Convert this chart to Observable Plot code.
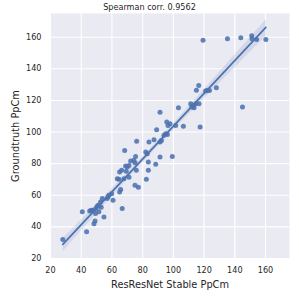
<!DOCTYPE html>
<html><head><meta charset="utf-8">
<script src="https://cdn.jsdelivr.net/npm/d3@7"></script>
<script src="https://cdn.jsdelivr.net/npm/@observablehq/plot@0.6"></script>
<style>
body{margin:0;background:#fff;}
#wrap{position:relative;width:299px;height:299px;font-family:"DejaVu Sans",sans-serif;}
#title{position:absolute;left:0;top:1px;width:299px;text-align:center;font-size:8.1px;color:#262626;line-height:12px;}
#wrap g[aria-label="x-axis label"] text, #wrap g[aria-label="y-axis label"] text{font-size:9.8px;}
</style></head><body>
<div id="wrap"><div id="title">Spearman corr. 0.9562</div></div>
<script>
const predicted = [28,40.7,43.5,45.5,46.5,47.5,48.3,49,49.3,49.5,50.4,51.1,52.6,53.7,51.5,53,54.8,56.9,58,59.8,60.7,57.5,65,65.7,66.7,63.5,64.6,67.8,71.1,65,66.3,69.3,68.9,70,71.1,72.2,74.3,75,75.9,75,77.2,68.3,75.4,76.1,82,83,83.7,83.7,82.4,84.1,87.4,88.5,89.1,91.3,92.2,91.3,93.9,95,96.1,91.3,95.7,96.5,97.8,99.3,101.5,103.3,106.5,111.3,112,113,113.5,114.6,116.7,117.4,115,116.5,121,122.2,123.5,128,119.3,135.2,143.9,145,151,151.2,154.2,160.2];
const groundtruth = [32,49.5,37,50,50.5,50.5,42,43.7,48.4,51.6,53,53.7,55.8,57.9,49.5,52.5,46.3,57.9,60,61,56.8,59,62.1,63.6,51.6,70.5,70.1,70.5,71.4,74.7,75.8,75.2,78.5,77.9,78.9,81.7,82.1,80.6,75.8,66.3,65,88.4,84.6,94.1,87.4,86.3,81,75.8,70.1,93.7,95.2,79.6,101.5,93.7,94.7,84.2,97.9,98.9,98.5,112.6,106.3,104.2,105.3,84.6,104.2,115.4,103.6,117.9,115.8,116.8,115.4,117.9,117.9,103.2,126.5,129.5,126,126.5,126.3,128,158,159,159.7,115.8,161,159,158.6,158.6];
const xTicks = [20,40,60,80,100,120,140,160];
const yTicks = [20,40,60,80,100,120,140,160];
const xLabel = "ResResNet Stable PpCm";
const yLabel = "Groundtruth PpCm";
const data = predicted.map((x,i)=>({x, y: groundtruth[i]}));
const chart = Plot.plot({
  width:299, height:299, marginLeft:50, marginRight:10, marginTop:13, marginBottom:41,
  style:{fontFamily:"DejaVu Sans", fontSize:"8.1px", color:"#262626", background:"white"},
  x:{domain:[20,175.6], ticks:xTicks, tickSize:0, tickPadding:9, label:xLabel, labelAnchor:"center", labelOffset:29, labelArrow:"none"},
  y:{domain:[20,175], ticks:yTicks, tickSize:0, tickPadding:9, label:yLabel, labelAnchor:"center", labelOffset:38, labelArrow:"none"},
  marks:[
    Plot.frame({fill:"#eaeaf2", stroke:null}),
    Plot.gridX(xTicks,{stroke:"white", strokeOpacity:1, strokeWidth:1.1}),
    Plot.gridY(yTicks,{stroke:"white", strokeOpacity:1, strokeWidth:1.1}),
    Plot.dot(data,{x:"x",y:"y",r:2.5,fill:"#4c72b0",fillOpacity:0.88, stroke:null}),
    Plot.linearRegressionY(data,{x:"x",y:"y",stroke:"#4c72b0",strokeWidth:1.7,fill:"#4c72b0",fillOpacity:0.15})
  ]
});
chart.querySelectorAll('g[aria-label="x-axis label"] text').forEach(t => t.textContent = xLabel);
chart.querySelectorAll('g[aria-label="y-axis label"] text').forEach(t => t.textContent = yLabel);
document.getElementById("wrap").appendChild(chart);
chart.style.position="absolute"; chart.style.left="0"; chart.style.top="0";
document.getElementById("wrap").appendChild(document.getElementById("title"));
</script>
</body></html>
